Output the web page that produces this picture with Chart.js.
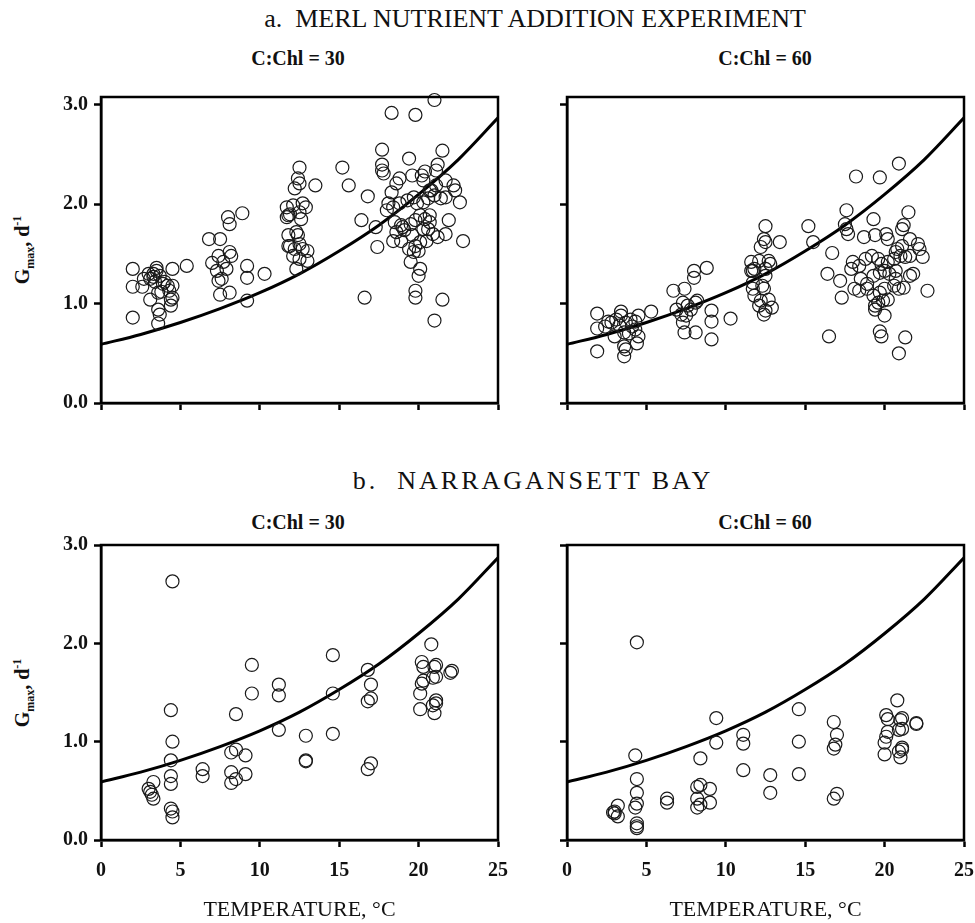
<!DOCTYPE html>
<html lang="en">
<head>
  <meta charset="UTF-8">
  <title>Gmax vs temperature</title>
  <script src="https://cdn.jsdelivr.net/npm/chart.js"></script>
  <style>
    body { margin: 0; background: #fff; font-family: "Liberation Serif", serif; color: #111; }
    #page { position: relative; width: 975px; height: 923px; }
    canvas { position: absolute; }
    .txt { position: absolute; white-space: nowrap; transform: translate(-50%, -50%); }
    .head { font-size: 26px; }
    .sub { font-size: 20px; font-weight: bold; }
    .ytitle { font-size: 20px; font-weight: bold; transform: translate(-50%, -50%) rotate(-90deg); }
    .ytitle sub, .ytitle sup { font-size: 12px; }
  </style>
</head>
<body>
<div id="page">
  <div class="txt head" style="left:535px; top:19px;">a.&nbsp; MERL NUTRIENT ADDITION EXPERIMENT</div>
  <div class="txt sub" style="left:298px; top:58px;">C:Chl = 30</div>
  <div class="txt sub" style="left:765px; top:58px;">C:Chl = 60</div>
  <div class="txt head" style="left:533px; top:481px; letter-spacing:3px;">b.&nbsp; NARRAGANSETT BAY</div>
  <div class="txt sub" style="left:298px; top:522px;">C:Chl = 30</div>
  <div class="txt sub" style="left:765px; top:522px;">C:Chl = 60</div>
  <div class="txt ytitle" style="left:24px; top:250px;">G<sub>max</sub>, d<sup>-1</sup></div>
  <div class="txt ytitle" style="left:24px; top:693px;">G<sub>max</sub>, d<sup>-1</sup></div>

  <canvas id="merl30" width="510" height="335" style="left:0; top:85px;"></canvas>
  <canvas id="merl60" width="465" height="335" style="left:510px; top:85px;"></canvas>
  <canvas id="narr30" width="510" height="390" style="left:0; top:533px;"></canvas>
  <canvas id="narr60" width="465" height="390" style="left:510px; top:533px;"></canvas>
</div>

<script>
  // tick values
  var xTicks = [0, 5, 10, 15, 20, 25];
  var yTicks = [0, 1, 2, 3];

  // fitted curve (same in every panel)
  var curveT = [0, 2.5, 5, 7.5, 10, 12.5, 15, 17.5, 20, 22.5, 25];
  var curveG = [0.59, 0.69, 0.81, 0.95, 1.11, 1.30, 1.53, 1.79, 2.10, 2.45, 2.87];

  // [temperature, Gmax] pairs
  var merl30 = [
    [2.0,1.35],[2.0,1.17],[2.0,0.86],[2.6,1.17],[2.7,1.25],[3.1,1.25],[3.3,1.30],[3.5,1.36],[3.5,1.33],[3.4,1.22],
    [3.7,1.28],[3.9,1.20],[4.0,1.22],[4.5,1.35],[5.4,1.38],[3.1,1.04],[3.6,1.11],[4.3,1.13],[4.5,1.06],[4.4,0.98],
    [3.6,0.94],[3.7,0.89],[3.6,0.80],[4.2,1.18],[4.5,1.18],[3.8,1.12],[4.4,1.04],[3.3,1.27],[3.0,1.30],
    [6.8,1.65],[7.5,1.65],[8.0,1.87],[8.1,1.80],[8.9,1.91],[7.0,1.41],[7.4,1.48],[8.1,1.52],[8.2,1.48],[7.9,1.35],
    [7.6,1.25],[7.4,1.23],[7.5,1.09],[8.1,1.11],[9.2,1.38],[9.2,1.26],[9.2,1.03],[10.3,1.30],[7.3,1.33],[7.7,1.42],
    [12.5,2.37],[12.4,2.26],[12.2,2.16],[12.5,2.21],[13.5,2.19],[11.7,1.97],[11.8,1.89],[11.9,1.90],[12.1,1.99],
    [12.7,2.01],[12.9,1.97],[12.5,1.92],[12.3,1.72],[11.8,1.69],[12.4,1.69],[11.9,1.58],[12.2,1.55],[12.7,1.55],
    [13.0,1.53],[12.1,1.48],[12.5,1.45],[13.0,1.43],[12.3,1.35],[11.8,1.58],[12.5,1.60],[11.7,1.87],[12.6,1.85],
    [15.2,2.37],[15.6,2.19],[16.8,2.08],[16.4,1.84],[17.3,1.77],[17.4,1.57],[16.6,1.06],
    [18.3,2.92],[19.8,2.90],[21.0,3.05],[17.7,2.55],[17.7,2.40],[17.7,2.34],[17.8,2.31],[19.4,2.46],[21.5,2.54],
    [21.2,2.40],[21.1,2.34],[18.8,2.26],[19.6,2.29],[20.2,2.29],[20.3,2.24],[21.7,2.24],[22.2,2.19],[22.3,2.14],
    [22.6,2.02],[21.9,1.84],[22.8,1.63],[21.4,2.06],[21.7,2.07],[20.8,2.14],[21.1,2.19],[18.6,2.21],[20.4,2.33],
    [18.3,2.12],[18.1,2.01],[18.0,1.94],[18.4,1.97],[18.8,2.01],[19.3,2.04],[19.7,2.07],[19.9,2.01],[20.3,2.02],
    [20.6,2.06],[20.7,2.14],[21.0,2.09],[18.5,1.82],[18.9,1.79],[18.6,1.72],[19.1,1.74],[19.5,1.80],[19.8,1.84],
    [20.1,1.89],[20.4,1.85],[20.7,1.82],[20.6,1.75],[20.9,1.70],[21.2,1.67],[21.7,1.70],[18.4,1.63],[18.9,1.63],
    [19.4,1.55],[19.8,1.58],[20.1,1.62],[20.5,1.63],[19.5,1.42],[19.7,1.52],[20.0,1.53],[20.1,1.35],[20.0,1.28],
    [19.0,1.77],[19.6,1.69],[20.3,1.75],[20.7,1.89],[19.8,1.13],[19.8,1.06],[21.5,1.04],[21.0,0.83]
  ];

  var merl60 = [
    [1.9,0.90],[1.9,0.75],[1.9,0.52],[2.6,0.82],[3.1,0.84],[3.4,0.92],[3.4,0.88],[3.7,0.81],[4.0,0.84],[4.5,0.88],
    [5.3,0.92],[3.0,0.67],[3.6,0.71],[4.3,0.74],[4.5,0.67],[4.4,0.60],[3.6,0.57],[3.7,0.54],[3.6,0.47],[4.1,0.77],
    [2.8,0.81],[2.4,0.77],[3.3,0.78],[4.3,0.82],[3.9,0.70],
    [6.7,1.13],[7.4,1.15],[8.0,1.33],[8.0,1.26],[8.8,1.36],[6.9,0.94],[7.3,1.01],[8.1,1.01],[8.2,1.03],[7.8,0.94],
    [7.5,0.88],[7.3,0.81],[7.4,0.71],[8.1,0.71],[9.1,0.93],[9.1,0.82],[9.1,0.64],[10.3,0.85],[7.2,0.89],[7.6,0.98],
    [12.5,1.78],[12.4,1.65],[12.2,1.57],[12.5,1.62],[13.4,1.62],[11.6,1.42],[11.7,1.33],[11.8,1.35],[12.1,1.43],
    [12.7,1.43],[12.8,1.40],[12.5,1.35],[12.3,1.18],[11.7,1.15],[12.4,1.15],[11.8,1.08],[12.2,1.03],[12.7,1.04],
    [12.9,0.96],[12.1,0.98],[12.5,0.93],[12.4,0.89],[11.7,1.21],[12.5,1.28],[11.6,1.33],
    [15.2,1.78],[15.5,1.62],[16.7,1.51],[16.4,1.30],[17.2,1.23],[17.3,1.06],[16.5,0.67],
    [18.2,2.28],[19.7,2.27],[20.9,2.41],[17.6,1.94],[17.5,1.80],[17.6,1.75],[17.7,1.70],[19.3,1.85],[21.5,1.92],
    [21.2,1.79],[21.1,1.75],[18.7,1.67],[19.4,1.69],[20.1,1.70],[20.2,1.65],[21.6,1.65],[22.1,1.60],[22.2,1.55],
    [22.4,1.47],[21.8,1.30],[22.7,1.13],[21.3,1.47],[21.6,1.48],[20.8,1.55],[21.1,1.58],
    [18.0,1.42],[17.9,1.35],[18.4,1.38],[18.8,1.45],[19.2,1.48],[19.6,1.45],[19.8,1.40],[20.2,1.42],[20.6,1.45],
    [20.7,1.52],[21.0,1.48],[18.1,1.15],[18.5,1.25],[18.9,1.20],[19.3,1.28],[19.7,1.31],[20.0,1.33],[20.3,1.30],
    [20.7,1.25],[20.6,1.18],[20.9,1.15],[21.2,1.16],[21.6,1.28],[18.4,1.13],[18.9,1.15],[19.3,1.08],[19.7,1.11],
    [20.0,1.15],[19.4,0.94],[19.6,1.01],[19.9,1.03],[20.0,0.88],[19.4,0.98],[20.2,1.04],[20.7,1.33],
    [19.7,0.72],[19.8,0.67],[21.3,0.66],[20.9,0.50]
  ];

  var narr30 = [
    [4.5,2.63],[4.4,1.32],[4.5,1.00],[4.4,0.81],[4.4,0.65],[4.4,0.57],[4.4,0.32],[4.5,0.29],[4.5,0.23],
    [3.3,0.59],[3.0,0.52],[3.1,0.49],[3.3,0.42],[3.2,0.46],[6.4,0.72],[6.4,0.65],
    [8.5,1.28],[9.5,1.78],[9.5,1.49],[8.2,0.89],[8.5,0.92],[9.1,0.86],[8.2,0.69],[8.2,0.58],[8.5,0.62],[9.1,0.67],
    [11.2,1.58],[11.2,1.47],[11.2,1.12],[12.9,1.06],[12.9,0.81],[12.9,0.80],
    [14.6,1.88],[14.6,1.49],[14.6,1.08],[16.8,1.73],[17.0,1.58],[17.0,1.44],[16.8,1.41],[17.0,0.78],[16.8,0.72],
    [20.8,1.99],[20.2,1.81],[20.3,1.76],[21.1,1.78],[21.0,1.76],[20.3,1.62],[20.2,1.59],[20.9,1.65],[21.1,1.66],
    [20.1,1.49],[21.1,1.42],[20.9,1.37],[21.0,1.29],[21.1,1.39],[20.1,1.33],[22.1,1.72],[22.0,1.70]
  ];

  var narr60 = [
    [4.4,2.01],[4.3,0.86],[4.4,0.62],[4.4,0.48],[4.4,0.37],[4.3,0.33],[4.4,0.17],[4.4,0.14],[4.4,0.12],
    [3.2,0.35],[3.0,0.29],[3.0,0.27],[2.9,0.28],[3.2,0.24],[6.3,0.42],[6.3,0.38],
    [8.4,0.83],[9.4,1.24],[9.4,0.99],[8.2,0.54],[8.2,0.42],[8.2,0.33],[8.4,0.56],[8.4,0.36],[9.0,0.52],[9.0,0.38],
    [11.1,1.07],[11.1,0.98],[11.1,0.71],[12.8,0.66],[12.8,0.48],
    [14.6,1.33],[14.6,1.00],[14.6,0.67],[16.8,1.20],[17.0,1.07],[16.9,0.97],[16.8,0.93],[17.0,0.47],[16.8,0.42],
    [20.8,1.42],[20.1,1.27],[20.2,1.23],[21.1,1.24],[21.0,1.22],[20.2,1.10],[20.1,1.05],[20.9,1.12],[21.1,1.13],
    [20.0,0.99],[21.1,0.94],[20.9,0.90],[21.0,0.84],[21.1,0.92],[20.0,0.87],[22.0,1.19],[22.0,1.18]
  ];

  var FONT = '"Liberation Serif", "Times New Roman", serif';

  // draws the top and right edges of the plot box
  var boxPlugin = {
    id: 'box',
    afterDraw: function(chart) {
      var a = chart.chartArea, c = chart.ctx;
      c.save();
      c.strokeStyle = '#000';
      c.lineWidth = 2.5;
      c.strokeRect(a.left, a.top, a.right - a.left, a.bottom - a.top);
      c.restore();
    }
  };

  function toXY(pairs) {
    return pairs.map(function(p) { return { x: p[0], y: p[1] }; });
  }

  function makePanel(id, pairs, o) {
    var curve = curveT.map(function(t, i) { return { x: t, y: curveG[i] }; });
    new Chart(document.getElementById(id), {
      type: 'scatter',
      data: {
        datasets: [{
          data: toXY(pairs),
          pointStyle: 'circle',
          pointRadius: 6.5,
          pointHoverRadius: 6.5,
          borderWidth: 1.2,
          borderColor: '#1a1a1a',
          backgroundColor: 'rgba(0,0,0,0)',
          clip: false
        }, {
          type: 'line',
          data: curve,
          showLine: true,
          pointRadius: 0,
          borderWidth: 3,
          borderColor: '#000',
          tension: 0.4,
          cubicInterpolationMode: 'monotone',
          fill: false
        }]
      },
      options: {
        responsive: false,
        animation: false,
        devicePixelRatio: 1,
        layout: { autoPadding: false, padding: { top: 12, right: o.right, left: 0, bottom: 0 } },
        plugins: { legend: { display: false }, tooltip: { enabled: false } },
        scales: {
          x: {
            type: 'linear', min: 0, max: 25,
            afterBuildTicks: function(s) { s.ticks = xTicks.map(function(v) { return { value: v }; }); },
            afterFit: function(s) { s.height = o.xH; s.paddingLeft = 0; s.paddingRight = 0; },
            ticks: { display: o.xLabels, padding: 12, color: '#111', font: { family: FONT, size: 20, weight: 'bold' } },
            grid: { display: true, drawOnChartArea: false, drawTicks: true, tickLength: 7, tickWidth: 2.5, tickColor: '#000' },
            border: { display: true, color: '#000', width: 2.5 },
            title: { display: o.xLabels, text: 'TEMPERATURE, °C', color: '#111', padding: { top: 0, bottom: 0 },
                     font: { family: FONT, size: 22 } }
          },
          y: {
            type: 'linear', min: 0, max: o.yMax,
            afterBuildTicks: function(s) { s.ticks = yTicks.map(function(v) { return { value: v }; }); },
            afterFit: function(s) { s.width = o.yW; s.paddingTop = 0; s.paddingBottom = 0; },
            ticks: { display: o.yLabels, padding: 6, color: '#111', font: { family: FONT, size: 20, weight: 'bold' },
                     callback: function(v) { return Number(v).toFixed(1); } },
            grid: { display: true, drawOnChartArea: false, drawTicks: true, tickLength: 7, tickWidth: 2.5, tickColor: '#000' },
            border: { display: true, color: '#000', width: 2.5 }
          }
        }
      },
      plugins: [boxPlugin]
    });
  }

  makePanel('merl30', merl30, { yMax: 3.08, yW: 101, xH: 17, right: 12, xLabels: false, yLabels: true });
  makePanel('merl60', merl60, { yMax: 3.08, yW: 57, xH: 17, right: 11, xLabels: false, yLabels: false });
  makePanel('narr30', narr30, { yMax: 3.0, yW: 101, xH: 83, right: 12, xLabels: true, yLabels: true });
  makePanel('narr60', narr60, { yMax: 3.0, yW: 57, xH: 83, right: 11, xLabels: true, yLabels: false });
</script>
</body>
</html>
